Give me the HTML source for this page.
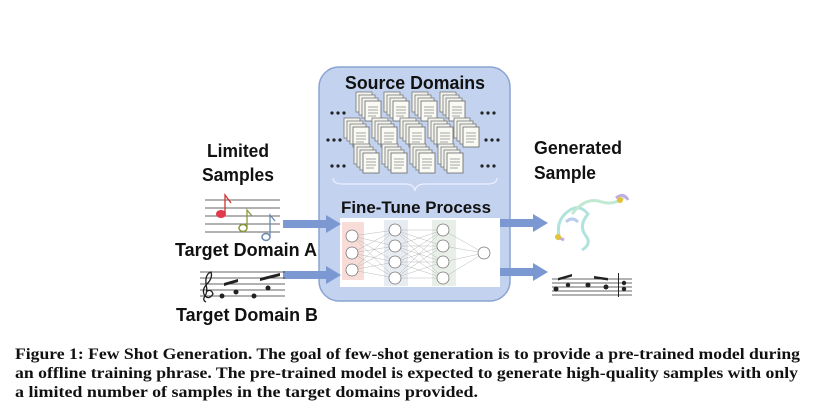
<!DOCTYPE html>
<html><head><meta charset="utf-8"><style>
html,body{margin:0;padding:0;background:#fff;}
svg{display:block;}
.s{font-family:"Liberation Sans",sans-serif;font-weight:bold;fill:#111;}
.c{font-family:"Liberation Serif",serif;font-weight:bold;fill:#111;font-size:16px;}
</style></head><body>
<svg width="814" height="414" viewBox="0 0 814 414" xmlns="http://www.w3.org/2000/svg">
<defs>
<g id="doc">
<rect x="0" y="0" width="16" height="20" fill="#f4f4ee" stroke="#777" stroke-width="0.8"/>
<rect x="3" y="3" width="16" height="20" fill="#f4f4ee" stroke="#777" stroke-width="0.8"/>
<rect x="6" y="6" width="16" height="20" fill="#f4f4ee" stroke="#777" stroke-width="0.8"/>
<rect x="9" y="9" width="16" height="20" fill="#fafaf5" stroke="#666" stroke-width="0.8"/>
<path d="M12 15h10M12 18h10M12 21h10M12 24h8" stroke="#888" stroke-width="0.8"/>
</g>
</defs>
<rect width="814" height="414" fill="#fff"/>
<rect x="319" y="67" width="191" height="234" rx="20" fill="#c3d3ef" stroke="#8aa3d4" stroke-width="1.5"/>
<text class="s" x="415" y="89" font-size="18" text-anchor="middle" textLength="140" lengthAdjust="spacingAndGlyphs">Source Domains</text>
<g>
<use href="#doc" x="356" y="92"/><use href="#doc" x="384" y="92"/><use href="#doc" x="412" y="92"/><use href="#doc" x="440" y="92"/>
<use href="#doc" x="344" y="118"/><use href="#doc" x="372" y="118"/><use href="#doc" x="400" y="118"/><use href="#doc" x="428" y="118"/><use href="#doc" x="454" y="118"/>
<use href="#doc" x="354" y="144"/><use href="#doc" x="382" y="144"/><use href="#doc" x="410" y="144"/><use href="#doc" x="438" y="144"/>
</g>
<g fill="#222">
<circle cx="332" cy="113" r="1.6"/><circle cx="338" cy="113" r="1.6"/><circle cx="344" cy="113" r="1.6"/>
<circle cx="482" cy="113" r="1.6"/><circle cx="488" cy="113" r="1.6"/><circle cx="494" cy="113" r="1.6"/>
<circle cx="328" cy="140" r="1.6"/><circle cx="334" cy="140" r="1.6"/><circle cx="340" cy="140" r="1.6"/>
<circle cx="486" cy="140" r="1.6"/><circle cx="492" cy="140" r="1.6"/><circle cx="498" cy="140" r="1.6"/>
<circle cx="332" cy="166" r="1.6"/><circle cx="338" cy="166" r="1.6"/><circle cx="344" cy="166" r="1.6"/>
<circle cx="482" cy="166" r="1.6"/><circle cx="488" cy="166" r="1.6"/><circle cx="494" cy="166" r="1.6"/>
</g>
<path d="M333 178 q0 6 10 6 h62 q8 0 10 6 q2 -6 10 -6 h62 q10 0 10 -6" fill="none" stroke="#eef" stroke-width="1.2"/>
<text class="s" x="416" y="213" font-size="17" text-anchor="middle" textLength="150" lengthAdjust="spacingAndGlyphs">Fine-Tune Process</text>
<rect x="340" y="218" width="160" height="69" fill="#fff"/>
<rect x="342" y="222" width="22" height="58" fill="#f7dcd8"/>
<rect x="384" y="220" width="24" height="66" fill="#e6ecf2"/>
<rect x="432" y="220" width="24" height="66" fill="#e8efe8"/>
<g stroke="#aaa" stroke-width="0.4">
<path d="M352 236L395 230M352 236L395 246M352 236L395 262M352 236L395 278M352 253L395 230M352 253L395 246M352 253L395 262M352 253L395 278M352 270L395 230M352 270L395 246M352 270L395 262M352 270L395 278"/>
<path d="M395 230L443 230M395 230L443 246M395 230L443 262M395 230L443 278M395 246L443 230M395 246L443 246M395 246L443 262M395 246L443 278M395 262L443 230M395 262L443 246M395 262L443 262M395 262L443 278M395 278L443 230M395 278L443 246M395 278L443 262M395 278L443 278"/>
<path d="M443 230L484 253M443 246L484 253M443 262L484 253M443 278L484 253"/>
</g>
<g fill="#fff" stroke="#777" stroke-width="0.8">
<circle cx="352" cy="236" r="6"/><circle cx="352" cy="253" r="6"/><circle cx="352" cy="270" r="6"/>
<circle cx="395" cy="230" r="6"/><circle cx="395" cy="246" r="6"/><circle cx="395" cy="262" r="6"/><circle cx="395" cy="278" r="6"/>
<circle cx="443" cy="230" r="6"/><circle cx="443" cy="246" r="6"/><circle cx="443" cy="262" r="6"/><circle cx="443" cy="278" r="6"/>
<circle cx="484" cy="253" r="6"/>
</g>
<g fill="#7c98d2">
<rect x="283" y="220" width="44" height="8"/><path d="M326 215L341 224L326 233Z"/>
<rect x="283" y="271" width="44" height="8"/><path d="M326 266L341 275L326 284Z"/>
<rect x="500" y="219" width="34" height="8"/><path d="M533 214L548 223L533 232Z"/>
<rect x="500" y="268" width="34" height="8"/><path d="M533 263L548 272L533 281Z"/>
</g>
<text class="s" x="238" y="157" font-size="18" text-anchor="middle" textLength="62" lengthAdjust="spacingAndGlyphs">Limited</text>
<text class="s" x="238" y="181" font-size="18" text-anchor="middle" textLength="72" lengthAdjust="spacingAndGlyphs">Samples</text>
<g stroke="#333" stroke-width="0.8">
<path d="M205 200H280M205 208H280M205 216H280M205 224H280M205 232H280"/>
</g>
<ellipse cx="221" cy="214" rx="5" ry="4" fill="#e23a4a"/><path d="M225 213V195l6 8" stroke="#c33" fill="none" stroke-width="1.3"/>
<ellipse cx="243" cy="228" rx="4" ry="3.5" fill="none" stroke="#8a9a3a" stroke-width="1.5"/><path d="M247 227V210l5 6" stroke="#8a9a3a" fill="none" stroke-width="1.3"/>
<ellipse cx="266" cy="237" rx="4" ry="3.5" fill="none" stroke="#6a88b0" stroke-width="1.5"/><path d="M270 236V215l5 6" stroke="#6a88b0" fill="none" stroke-width="1.3"/>
<text class="s" x="246" y="256" font-size="18" text-anchor="middle" textLength="142" lengthAdjust="spacingAndGlyphs">Target Domain A</text>
<g stroke="#333" stroke-width="0.7"><path d="M200 272H285M200 278H285M200 284H285M200 290H285M200 296H285"/></g>
<path d="M206 302 q-4 -2 -1 -6 q3 -4 1 -12 q-1 -10 5 -12 q2 6 -4 12 q-6 6 -2 12 q4 4 8 -2 q-2 -6 -7 -2" fill="none" stroke="#222" stroke-width="1.3"/>
<g fill="#222"><circle cx="222" cy="296" r="2.5"/><circle cx="236" cy="292" r="2.5"/><circle cx="254" cy="296" r="2.5"/><circle cx="268" cy="288" r="2.5"/>
<path d="M224 283l14 -4v3l-14 4zM260 278l20 -5v3l-20 5z"/></g>
<text class="s" x="247" y="321" font-size="18" text-anchor="middle" textLength="142" lengthAdjust="spacingAndGlyphs">Target Domain B</text>
<text class="s" x="534" y="154" font-size="18" textLength="88" lengthAdjust="spacingAndGlyphs">Generated</text>
<text class="s" x="534" y="179" font-size="18" textLength="62" lengthAdjust="spacingAndGlyphs">Sample</text>
<g fill="none" stroke-width="3" opacity="0.7">
<path d="M560 240 q-6 -20 10 -30 q10 -6 18 4 q-10 12 -2 22 q6 8 -4 14" stroke="#8fd8d0"/>
<path d="M572 214 q14 -18 30 -12 q12 4 24 -6" stroke="#a8e0c0"/>
<path d="M556 236 l8 4 M616 198 q8 -6 12 2" stroke="#a78ad8"/>
<path d="M566 222 q6 -6 12 0" stroke="#9ab8e8"/>
</g>
<circle cx="558" cy="237" r="3" fill="#e2c23a"/><circle cx="620" cy="200" r="3" fill="#e2c23a"/>
<g stroke="#333" stroke-width="0.7"><path d="M552 279H632M552 283H632M552 287H632M552 291H632M552 295H632"/></g>
<g fill="#222"><circle cx="556" cy="289" r="2.5"/><circle cx="568" cy="285" r="2.2"/><circle cx="588" cy="285" r="2.5"/><circle cx="606" cy="287" r="2.5"/><circle cx="624" cy="283" r="2.2"/><circle cx="624" cy="289" r="2.2"/>
<path d="M558 278l14 -4v2.5l-14 4zM594 276l14 2v2.5l-14 -2z"/><rect x="618" y="273" width="1" height="24"/></g>
<text class="c" x="15" y="359" textLength="785" lengthAdjust="spacingAndGlyphs">Figure 1: Few Shot Generation. The goal of few-shot generation is to provide a pre-trained model during</text>
<text class="c" x="15" y="378" textLength="783" lengthAdjust="spacingAndGlyphs">an offline training phrase. The pre-trained model is expected to generate high-quality samples with only</text>
<text class="c" x="15" y="397" textLength="463" lengthAdjust="spacingAndGlyphs">a limited number of samples in the target domains provided.</text>
</svg>
</body></html>
